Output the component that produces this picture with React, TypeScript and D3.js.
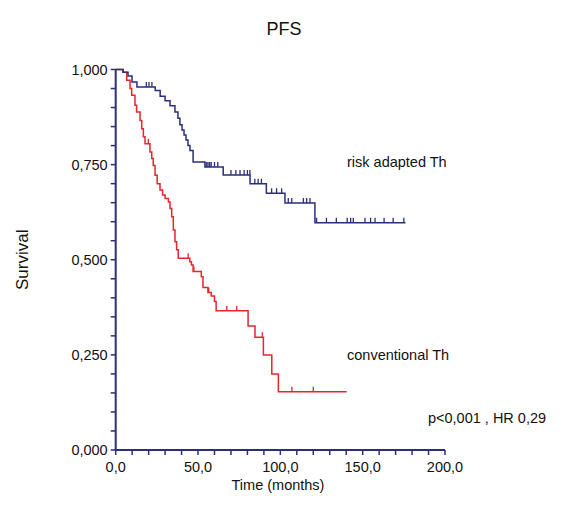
import React from "react";
import * as d3 from "d3";

const W = 582;
const H = 508;

// Risk adapted therapy (blue): step times (months) and survival after each step
const blueTimes = [0, 4.4, 7.5, 9.9, 12.9, 24, 27, 30, 33, 36, 37.8, 39, 40.3, 41.5, 42.7, 43.9, 45.1, 47, 54.2, 65.3, 81.6, 91.5, 102.8, 121];
const blueSurv = [1, 0.993, 0.983, 0.967, 0.954, 0.945, 0.93, 0.918, 0.905, 0.888, 0.872, 0.855, 0.841, 0.828, 0.815, 0.8, 0.787, 0.757, 0.744, 0.723, 0.7, 0.675, 0.649, 0.597];
const blueEnd = 176;
const blueCensor = [18.6, 20.2, 22, 55, 56, 57, 58, 60, 62, 70, 73, 75.5, 78, 80, 81.5, 84.5, 86.5, 88.5, 94.7, 97.7, 100.8, 104.8, 106.9, 114, 116, 118, 122, 128, 134, 140.6, 142.7, 144.3, 151.4, 154.8, 157.5, 163, 168.5, 175];

// Conventional therapy (red)
const redTimes = [0, 4.6, 6.7, 8.7, 9.7, 11.7, 12.7, 14.8, 15.8, 16.8, 17.8, 20.8, 21.9, 22.8, 23.9, 25.2, 26.9, 28.5, 30, 32, 33, 34, 35, 36, 37, 38, 45, 46, 47, 52, 53, 56, 58, 60, 61, 80.4, 84.6, 89.7, 94.8, 98.8];
const redSurv = [1, 0.993, 0.972, 0.95, 0.932, 0.906, 0.888, 0.866, 0.844, 0.823, 0.805, 0.783, 0.766, 0.748, 0.722, 0.7, 0.683, 0.67, 0.661, 0.652, 0.635, 0.613, 0.578, 0.547, 0.526, 0.504, 0.495, 0.486, 0.469, 0.455, 0.427, 0.414, 0.405, 0.39, 0.366, 0.326, 0.296, 0.25, 0.2, 0.153];
const redEnd = 140.3;
const redCensor = [19.8, 44, 47.5, 56.5, 67.5, 73.5, 89, 107, 120];

const xTickLabels = ["0,0", "50,0", "100,0", "150,0", "200,0"];
const xTickValues = [0, 50, 100, 150, 200];
const yTickLabels = ["0,000", "0,250", "0,500", "0,750", "1,000"];
const yTickValues = [0, 0.25, 0.5, 0.75, 1];

const NAVY = "#2b2e7c";
const RED = "#e8242c";
const TEXT = "#111";
const FONT = "'Liberation Sans', Arial, sans-serif";

function survAt(times: number[], surv: number[], t: number) {
  let s = surv[0];
  for (let i = 0; i < times.length; i++) if (times[i] <= t) s = surv[i];
  return s;
}

export default function App() {
  const x = d3.scaleLinear().domain([0, 200]).range([115.7, 445]);
  const y = d3.scaleLinear().domain([0, 1]).range([450, 69.5]);

  const line = d3
    .line<[number, number]>()
    .x((d) => x(d[0]))
    .y((d) => y(d[1]))
    .curve(d3.curveStepAfter);

  const mk = (times: number[], surv: number[], end: number): [number, number][] => {
    const pts: [number, number][] = times.map((t, i) => [t, surv[i]]);
    pts.push([end, surv[surv.length - 1]]);
    return pts;
  };

  const minorX = d3.range(0, 201, 10);
  const minorY = d3.range(0, 1.0001, 0.05);

  const censorPath = (times: number[], surv: number[], cens: number[]) =>
    cens
      .map((t) => {
        const px = x(t);
        const py = y(survAt(times, surv, t));
        return `M${px},${py}V${py - 5}`;
      })
      .join("");

  return (
    <svg width={W} height={H} style={{ position: "absolute", left: 0, top: 0, background: "#fff" }}>
      <text x={284} y={35} textAnchor="middle" fontFamily={FONT} fontSize={18} fill={TEXT}>PFS</text>
      <text
        transform={`translate(28,${y(0.5)}) rotate(-90)`}
        textAnchor="middle"
        fontFamily={FONT}
        fontSize={17}
        fill={TEXT}
      >
        Survival
      </text>
      <text x={278} y={490} textAnchor="middle" fontFamily={FONT} fontSize={14.5} fill={TEXT}>Time (months)</text>

      {/* y ticks */}
      {minorY.map((v, i) => (
        <line key={"ym" + i} x1={x(0) - 5} x2={x(0)} y1={y(v)} y2={y(v)} stroke={NAVY} strokeWidth={1.5} />
      ))}
      {yTickValues.map((v, i) => (
        <text key={"yl" + i} x={x(0) - 8} y={y(v) + 5} textAnchor="end" fontFamily={FONT} fontSize={14.5} fill={TEXT}>
          {yTickLabels[i]}
        </text>
      ))}
      {/* x ticks */}
      {minorX.map((v, i) => (
        <line key={"xm" + i} x1={x(v)} x2={x(v)} y1={y(0)} y2={y(0) + 5} stroke={NAVY} strokeWidth={1.5} />
      ))}
      {xTickValues.map((v, i) => (
        <text key={"xl" + i} x={x(v)} y={y(0) + 22} textAnchor="middle" fontFamily={FONT} fontSize={14.5} fill={TEXT}>
          {xTickLabels[i]}
        </text>
      ))}

      {/* axes */}
      <line x1={x(0)} x2={x(0)} y1={y(0) + 1} y2={y(1)} stroke={NAVY} strokeWidth={2} />
      <line x1={x(0)} x2={x(200)} y1={y(0)} y2={y(0)} stroke={NAVY} strokeWidth={2} />

      {/* curves */}
      <path d={line(mk(redTimes, redSurv, redEnd)) || ""} fill="none" stroke={RED} strokeWidth={1.5} />
      <path d={censorPath(redTimes, redSurv, redCensor)} stroke={RED} strokeWidth={1.3} />
      <path d={line(mk(blueTimes, blueSurv, blueEnd)) || ""} fill="none" stroke={NAVY} strokeWidth={1.5} />
      <path d={censorPath(blueTimes, blueSurv, blueCensor)} stroke={NAVY} strokeWidth={1.3} />

      <text x={347} y={167} fontFamily={FONT} fontSize={14.5} fill={TEXT}>risk adapted Th</text>
      <text x={347} y={360} fontFamily={FONT} fontSize={14.5} fill={TEXT}>conventional Th</text>
      <text x={428} y={423} fontFamily={FONT} fontSize={14.5} fill={TEXT}>p&lt;0,001 , HR 0,29</text>
    </svg>
  );
}
